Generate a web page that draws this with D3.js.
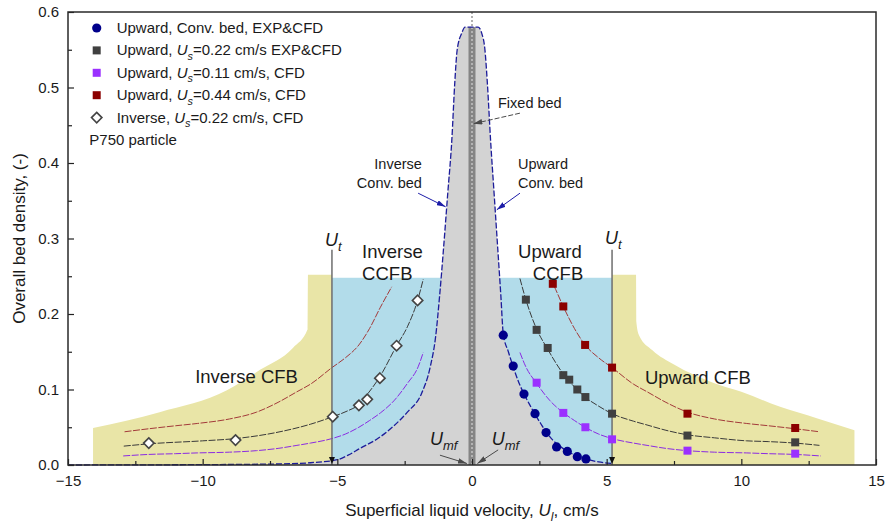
<!DOCTYPE html>
<html>
<head>
<meta charset="utf-8">
<script src="https://cdn.jsdelivr.net/npm/d3@7"></script>
<style>
  body { margin: 0; background: #fff; }
  svg { display: block; font-family: "Liberation Sans", Arial, sans-serif; }
</style>
</head>
<body>
<svg id="chart" width="885" height="527"></svg>
<script>
// ---- axis ticks ----
const xTicks = [-15, -10, -5, 0, 5, 10, 15];
const xMinor = [-12.5, -7.5, -2.5, 2.5, 7.5, 12.5];
const yTicks = [0, 0.1, 0.2, 0.3, 0.4, 0.5, 0.6];
const yMinor = [0.05, 0.15, 0.25, 0.35, 0.45, 0.55];

// ---- measured / simulated bed densities ----
const convUpX = [1.16, 1.53, 1.93, 2.34, 2.75, 3.14, 3.54, 3.91, 4.23];
const convUpY = [0.172, 0.131, 0.094, 0.068, 0.043, 0.024, 0.018, 0.011, 0.008];
const us022X = [2.0, 2.4, 2.81, 3.39, 3.61, 3.91, 4.21, 5.2, 8.0, 12.0];
const us022Y = [0.219, 0.179, 0.155, 0.119, 0.113, 0.100, 0.090, 0.068, 0.039, 0.030];
const us011X = [2.4, 3.39, 4.21, 5.2, 8.0, 12.0];
const us011Y = [0.109, 0.069, 0.050, 0.034, 0.019, 0.015];
const us044X = [3.0, 3.39, 4.2, 5.2, 8.0, 12.0];
const us044Y = [0.240, 0.210, 0.159, 0.129, 0.068, 0.049];
const inv022X = [-2.02, -2.80, -3.42, -3.89, -4.20, -5.17, -8.78, -12.0];
const inv022Y = [0.218, 0.158, 0.115, 0.087, 0.079, 0.064, 0.033, 0.029];

// ---- fitted trends (upward side) ----
const fit044X = [2.9, 3.0, 3.4, 3.8, 4.2, 4.7, 5.2, 6.0, 6.5, 7.2, 8.0, 9.0, 10.2, 11.0, 12.0, 12.9];
const fit044Y = [0.246, 0.240, 0.209, 0.181, 0.159, 0.142, 0.129, 0.107, 0.097, 0.083, 0.070, 0.061, 0.055, 0.052, 0.048, 0.044];
const fit022X = [1.78, 2.0, 2.4, 2.8, 3.4, 3.9, 4.2, 4.7, 5.2, 6.0, 6.5, 7.2, 8.0, 9.0, 10.2, 11.0, 12.0, 12.9];
const fit022Y = [0.247, 0.219, 0.180, 0.154, 0.120, 0.100, 0.090, 0.078, 0.068, 0.058, 0.053, 0.046, 0.040, 0.036, 0.032, 0.031, 0.029, 0.026];
const fit011X = [1.78, 2.0, 2.4, 2.9, 3.4, 3.8, 4.2, 4.7, 5.2, 6.0, 6.5, 7.2, 8.0, 9.0, 10.2, 11.0, 12.0, 12.95];
const fit011Y = [0.149, 0.130, 0.108, 0.085, 0.069, 0.059, 0.050, 0.041, 0.035, 0.029, 0.026, 0.022, 0.019, 0.017, 0.016, 0.015, 0.014, 0.012];

// ---- fitted trends (inverse side) ----
const inv044X = [-12.9, -12.0, -11.0, -10.2, -9.0, -8.0, -7.2, -6.5, -6.0, -5.2, -4.7, -4.2, -3.8, -3.4, -2.98];
const inv044Y = [0.044, 0.048, 0.052, 0.055, 0.061, 0.070, 0.083, 0.097, 0.107, 0.129, 0.142, 0.159, 0.181, 0.209, 0.236];
const invFit022X = [-12.93, -12.0, -10.0, -8.78, -7.0, -6.0, -5.17, -4.6, -4.2, -3.9, -3.42, -2.8, -2.4, -2.02, -1.81];
const invFit022Y = [0.025, 0.028, 0.032, 0.035, 0.045, 0.054, 0.064, 0.072, 0.080, 0.093, 0.117, 0.158, 0.183, 0.218, 0.246];
const inv011X = [-12.95, -12.0, -11.0, -10.2, -9.0, -8.0, -7.2, -6.5, -6.0, -5.2, -4.7, -4.2, -3.8, -3.4, -2.9, -2.4, -2.0, -1.81];
const inv011Y = [0.012, 0.014, 0.015, 0.016, 0.017, 0.019, 0.022, 0.026, 0.029, 0.035, 0.041, 0.050, 0.059, 0.069, 0.085, 0.108, 0.130, 0.149];

// ---- conventional (packed -> expanded) bed envelope, inverse | upward ----
const convX = [-15, -10, -7, -6, -5.0, -4.6, -4.16, -3.5, -2.93, -2.4, -1.87, -1.55, -1.35, -1.2, -1.05, -0.9, -0.75, -0.64, -0.55, -0.38, -0.26, 0,
               0.23, 0.36, 0.48, 0.57, 0.69, 0.82, 0.95, 1.07, 1.16, 1.35, 1.53, 1.73, 1.93, 2.14, 2.34, 2.55, 2.75, 3.0, 3.3, 3.6, 3.9, 4.23, 4.7, 5.2];
const convY = [0, 0.0005, 0.0015, 0.003, 0.007, 0.013, 0.022, 0.035, 0.051, 0.07, 0.095, 0.13, 0.17, 0.225, 0.29, 0.36, 0.43, 0.506, 0.55, 0.572, 0.58, 0.58,
               0.58, 0.572, 0.55, 0.506, 0.43, 0.36, 0.29, 0.225, 0.174, 0.15, 0.13, 0.11, 0.094, 0.08, 0.067, 0.055, 0.044, 0.033, 0.024, 0.017, 0.012, 0.008, 0.004, 0.002];

// ---- regime boundaries ----
const ut = 5.2;            // terminal velocity
const packedDensity = 0.58;
const ccfbTop = 0.248;
const cfbRX = [5.2, 6.09, 6.1, 6.2, 6.7, 7.5, 8.95, 10.0, 11.44, 12.8, 14.2];
const cfbRY = [0.252, 0.252, 0.19, 0.172, 0.152, 0.133, 0.109, 0.097, 0.077, 0.062, 0.046];
const cfbLX = [-14.07, -11.6, -9.1, -7.87, -6.65, -6.1, -6.09, -5.2];
const cfbLY = [0.049, 0.07, 0.099, 0.126, 0.155, 0.18, 0.252, 0.252];

const svg = d3.select('#chart');
const X = d3.scaleLinear().domain([-15, 15]).range([68, 876]);
const Y = d3.scaleLinear().domain([0, 0.6]).range([465, 12]);

const zip = (a, b) => a.map((v, i) => [v, b[i]]);

// arrowheads
const defs = svg.append('defs');
function arrowDef(id, color) {
  defs.append('marker').attr('id', id)
    .attr('viewBox', '0 0 10 6').attr('refX', 10).attr('refY', 3)
    .attr('markerWidth', 9).attr('markerHeight', 5.5)
    .attr('markerUnits', 'userSpaceOnUse').attr('orient', 'auto')
    .append('path').attr('d', 'M0,0 L10,3 L0,6 Z').attr('fill', color);
}
arrowDef('arBlue', '#1c1ca8');
arrowDef('arGray', '#4a4a4a');

const plot = svg.append('g');

// CFB regimes (yellow)
const areaMono = d3.area().curve(d3.curveMonotoneX).x(d => X(d[0])).y0(Y(0)).y1(d => Y(d[1]));
plot.append('path').datum(zip(cfbRX, cfbRY)).attr('d', areaMono).attr('fill', '#e9e5a7');
plot.append('path').datum(zip(cfbLX, cfbLY)).attr('d', areaMono).attr('fill', '#e9e5a7');

// CCFB regime (blue)
plot.append('rect')
  .attr('x', X(-ut)).attr('y', Y(ccfbTop))
  .attr('width', X(ut) - X(-ut)).attr('height', Y(0) - Y(ccfbTop))
  .attr('fill', '#b2dcea');

// conventional bed (gray)
const convPts = zip(convX, convY);
plot.append('path').datum(convPts).attr('d', areaMono).attr('fill', '#d3d3d3');

// fixed bed column
plot.append('rect')
  .attr('x', X(-0.13)).attr('y', Y(packedDensity))
  .attr('width', X(0.13) - X(-0.13)).attr('height', Y(0) - Y(packedDensity))
  .attr('fill', '#858585');
plot.append('line')
  .attr('x1', X(0)).attr('x2', X(0)).attr('y1', Y(packedDensity)).attr('y2', Y(0))
  .attr('stroke', '#b4b4b4').attr('stroke-width', 2).attr('stroke-dasharray', '2,2');
plot.append('line')
  .attr('x1', X(0)).attr('x2', X(0)).attr('y1', Y(0.6)).attr('y2', Y(packedDensity))
  .attr('stroke', '#b0b0b0').attr('stroke-width', 2).attr('stroke-dasharray', '2,2');

// conventional bed envelope outline
const lineMono = d3.line().curve(d3.curveMonotoneX).x(d => X(d[0])).y(d => Y(d[1]));
plot.append('path').datum(convPts).attr('d', lineMono)
  .attr('fill', 'none').attr('stroke', '#1c1c9a').attr('stroke-width', 1.3)
  .attr('stroke-dasharray', '6,2');

// fitted trends
const trends = [
  [fit044X, fit044Y, '#a33a3a'], [fit022X, fit022Y, '#3a3a3a'], [fit011X, fit011Y, '#8a2be2'],
  [inv044X, inv044Y, '#a33a3a'], [invFit022X, invFit022Y, '#3a3a3a'], [inv011X, inv011Y, '#8a2be2']
];
trends.forEach(([xs, ys, c]) => {
  plot.append('path').datum(zip(xs, ys)).attr('d', lineMono)
    .attr('fill', 'none').attr('stroke', c).attr('stroke-width', 1)
    .attr('stroke-dasharray', '7,1.5');
});

// terminal velocity lines
[-ut, ut].forEach(u => {
  plot.append('line')
    .attr('x1', X(u)).attr('x2', X(u)).attr('y1', Y(0.285)).attr('y2', Y(0))
    .attr('stroke', '#6e6e6e').attr('stroke-width', 1.5);
  plot.append('path')
    .attr('d', `M${X(u) - 3},${Y(0) - 8} L${X(u) + 3},${Y(0) - 8} L${X(u)},${Y(0) - 1} Z`)
    .attr('fill', '#111');
});

// markers
function marker(g, type, cx, cy, color) {
  if (type === 'circle') {
    g.append('circle').attr('cx', cx).attr('cy', cy).attr('r', 4.6).attr('fill', color);
  } else if (type === 'square') {
    g.append('rect').attr('x', cx - 4).attr('y', cy - 4).attr('width', 8).attr('height', 8).attr('fill', color);
  } else {
    const h = 5.2;
    g.append('path').attr('d', `M${cx},${cy - h} L${cx + h},${cy} L${cx},${cy + h} L${cx - h},${cy} Z`)
      .attr('fill', '#fff').attr('stroke', color).attr('stroke-width', 1.6);
  }
}
const series = [
  [convUpX, convUpY, 'circle', '#00008b'],
  [us022X, us022Y, 'square', '#404040'],
  [us011X, us011Y, 'square', '#9b30ff'],
  [us044X, us044Y, 'square', '#8b0000'],
  [inv022X, inv022Y, 'diamond', '#444444']
];
const markG = svg.append('g');
series.forEach(([xs, ys, t, c]) => xs.forEach((v, i) => marker(markG, t, X(v), Y(ys[i]), c)));

// rich text helper (italic symbols, subscripts)
function rich(sel, segs, size) {
  let down = false;
  segs.forEach(s => {
    const ts = sel.append('tspan').text(s.t);
    if (s.it) ts.attr('font-style', 'italic');
    if (s.sub) { ts.attr('font-size', size * 0.72).attr('dy', size * 0.3); down = true; }
    else if (down) { ts.attr('dy', -size * 0.3); down = false; }
  });
}
function label(x, y, segs, size, anchor) {
  const t = svg.append('text').attr('x', x).attr('y', y).attr('font-size', size)
    .attr('fill', '#1a1a1a').attr('text-anchor', anchor || 'start');
  rich(t, segs, size);
  return t;
}

// regime labels
label(X(-4.08), Y(0.274), [{ t: 'Inverse' }], 18.5);
label(X(-4.08), Y(0.245), [{ t: 'CCFB' }], 18.5);
label(X(1.71), Y(0.274), [{ t: 'Upward' }], 18.5);
label(X(2.26), Y(0.245), [{ t: 'CCFB' }], 18.5);
label(X(-10.28), Y(0.108), [{ t: 'Inverse CFB' }], 18.5);
label(X(6.42), Y(0.107), [{ t: 'Upward CFB' }], 18.5);
label(X(-ut) - 7, Y(0.29), [{ t: 'U', it: 1 }, { t: 't', it: 1, sub: 1 }], 18);
label(X(ut) - 7, Y(0.293), [{ t: 'U', it: 1 }, { t: 't', it: 1, sub: 1 }], 18);

// annotations
label(X(-1.86), Y(0.392), [{ t: 'Inverse' }], 14.5, 'end');
label(X(-1.86), Y(0.367), [{ t: 'Conv. bed' }], 14.5, 'end');
label(X(1.71), Y(0.392), [{ t: 'Upward' }], 14.5);
label(X(1.71), Y(0.367), [{ t: 'Conv. bed' }], 14.5);
label(X(0.965), Y(0.473), [{ t: 'Fixed bed' }], 14.5);
label(X(-1.56), Y(0.0265), [{ t: 'U', it: 1 }, { t: 'mf', it: 1, sub: 1 }], 18);
label(X(0.73), Y(0.0265), [{ t: 'U', it: 1 }, { t: 'mf', it: 1, sub: 1 }], 18);

const annArrows = [
  { from: [1.78, 0.466], to: [0.05, 0.452], color: '#4a4a4a', id: 'arGray', dash: '5,2' },
  { from: [-2.0, 0.360], to: [-0.98, 0.342], color: '#1c1ca8', id: 'arBlue', dash: null },
  { from: [1.78, 0.360], to: [0.92, 0.338], color: '#1c1ca8', id: 'arBlue', dash: null },
  { from: [-1.19, 0.013], to: [-0.19, 0.002], color: '#4a4a4a', id: 'arGray', dash: null },
  { from: [0.97, 0.02], to: [0.2, 0.002], color: '#4a4a4a', id: 'arGray', dash: null }
];
annArrows.forEach(a => {
  svg.append('line')
    .attr('x1', X(a.from[0])).attr('y1', Y(a.from[1]))
    .attr('x2', X(a.to[0])).attr('y2', Y(a.to[1]))
    .attr('stroke', a.color).attr('stroke-width', 1)
    .attr('stroke-dasharray', a.dash)
    .attr('marker-end', `url(#${a.id})`);
});

// legend
const legendLabels = [
  [{ t: 'Upward, Conv. bed, EXP&CFD' }],
  [{ t: 'Upward, ' }, { t: 'U', it: 1 }, { t: 's', it: 1, sub: 1 }, { t: '=0.22 cm/s EXP&CFD' }],
  [{ t: 'Upward, ' }, { t: 'U', it: 1 }, { t: 's', it: 1, sub: 1 }, { t: '=0.11 cm/s, CFD' }],
  [{ t: 'Upward, ' }, { t: 'U', it: 1 }, { t: 's', it: 1, sub: 1 }, { t: '=0.44 cm/s, CFD' }],
  [{ t: 'Inverse, ' }, { t: 'U', it: 1 }, { t: 's', it: 1, sub: 1 }, { t: '=0.22 cm/s, CFD' }]
];
const legendG = svg.append('g');
legendLabels.forEach((segs, i) => {
  const base = 33 + i * 22.4;
  marker(legendG, series[i][2], 96.7, base - 5, series[i][3]);
  label(116.7, base, segs, 15);
});
label(89.3, 33 + 5 * 22.4, [{ t: 'P750 particle' }], 15);

// axes
const axG = svg.append('g');
const bottom = axG.append('g').attr('transform', `translate(0,${Y(0)})`);
bottom.call(d3.axisBottom(X).tickValues(xTicks).tickSize(-6).tickPadding(10).tickFormat(d3.format('d')));
bottom.append('g').call(d3.axisBottom(X).tickValues(xMinor).tickSize(-4).tickFormat(''));
const left = axG.append('g').attr('transform', `translate(${X(-15)},0)`);
left.call(d3.axisLeft(Y).tickValues(yTicks).tickSize(-6).tickPadding(9).tickFormat(d3.format('.1f')));
left.append('g').call(d3.axisLeft(Y).tickValues(yMinor).tickSize(-4).tickFormat(''));
axG.selectAll('.domain').remove();
axG.selectAll('.tick line').attr('stroke', '#222').attr('stroke-width', 1.2);
axG.selectAll('.tick text').attr('font-size', 15).attr('fill', '#1a1a1a')
  .attr('font-family', '"Liberation Sans", Arial, sans-serif');

// frame
axG.append('rect')
  .attr('x', X(-15)).attr('y', Y(0.6))
  .attr('width', X(15) - X(-15)).attr('height', Y(0) - Y(0.6))
  .attr('fill', 'none').attr('stroke', '#2a2a2a').attr('stroke-width', 1.5);

// axis titles
const xt = svg.append('text').attr('x', X(0)).attr('y', 516).attr('text-anchor', 'middle')
  .attr('font-size', 17).attr('fill', '#1a1a1a');
rich(xt, [{ t: 'Superficial liquid velocity, ' }, { t: 'U', it: 1 }, { t: 'l', it: 1, sub: 1 }, { t: ', cm/s' }], 17);
svg.append('text')
  .attr('transform', `translate(25,${Y(0.3)}) rotate(-90)`)
  .attr('text-anchor', 'middle').attr('font-size', 17).attr('fill', '#1a1a1a')
  .text('Overall bed density, (-)');
</script>
</body>
</html>
